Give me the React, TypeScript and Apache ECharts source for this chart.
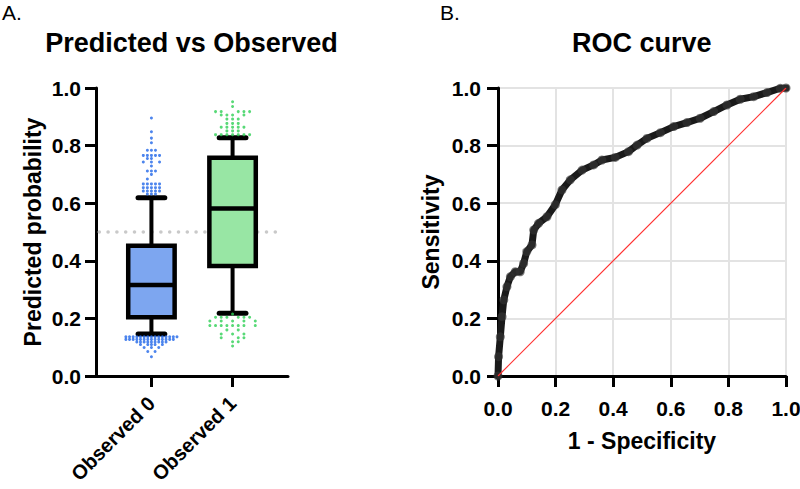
import React, { useEffect, useRef } from 'react';
import * as echarts from 'echarts';

const FONT = '"Liberation Sans", Arial, Helvetica, sans-serif';

// ----- Panel A data -----
const categories = ['Observed 0', 'Observed 1'];
// [lower whisker, Q1, median, Q3, upper whisker]
const boxObserved0 = [0.146, 0.204, 0.316, 0.452, 0.619];
const boxObserved1 = [0.218, 0.382, 0.582, 0.758, 0.827];
const threshold = 0.5;
const boxFills = ['#7da6f0', '#98e6a4'];
const dotColors = ['#2166e8', '#2ecf55'];

// outlier rows: [value, beeswarm slots]
const outliers0Upper: [number, number[]][] = [
  [0.896, [0]], [0.848, [0]], [0.826, [0]], [0.81, [0]],
  [0.784, [-1, 0, 1]], [0.766, [-2, -1, 0, 1, 2]], [0.755, [-1, 0]],
  [0.743, [-2, 0, 2]], [0.729, [0]], [0.712, [-1, 0, 1]], [0.7, [0]],
  [0.684, [-1]], [0.667, [-2, -1, 0, 1, 2]], [0.654, [-2, -1, 0, 1, 2]],
  [0.642, [-2, -1, 0, 1, 2]], [0.632, [-1, 0, 1]],
];
const outliers0Lower: [number, number[]][] = [
  [0.136, [-7, -6, -5, -4, -3, -2, -1, 0, 1, 2, 3, 4, 5, 6, 7]],
  [0.127, [-7, -6, -5, -4, -3, -2, -1, 0, 1, 2, 3, 4, 5, 6]],
  [0.118, [-4, -3, -2, -1, 0, 1, 2, 3, 4]],
  [0.109, [-3, -1, 0, 1, 3]],
  [0.099, [-2, 0, 2]],
  [0.085, [-1, 1]],
  [0.067, [0]],
];
const outliers1Upper: [number, number[]][] = [
  [0.952, [0]], [0.936, [0]],
  [0.918, [-3, -2, 1, 2, 3]], [0.906, [-2, -1, 0, 2]],
  [0.892, [-1, 0, 1]], [0.877, [-1, 0, 1]],
  [0.864, [-2, -1, 0, 1, 2]], [0.851, [-1, 0, 1]],
  [0.838, [-3, -2, -1, 0, 1, 2, 3]],
];
const outliers1Lower: [number, number[]][] = [
  [0.215, [0]], [0.204, [-3, -2, -1, 1, 2, 3]], [0.191, [-4, -2, 0, 2, 4]],
  [0.175, [-4, -3, -2, -1, 0, 1, 2, 4]], [0.16, [-1, 1]], [0.146, [-2, 0, 2]],
  [0.133, [-2, 1, 2]], [0.119, [0, 1]], [0.104, [0]],
];
// slot spacing (category units) per group
const slot0Upper = 0.05;
const slot0Lower = 0.045;
const slot1 = 0.07;

// ----- Panel B data -----
const fpr = [0, 0.002, 0.008, 0.014, 0.02, 0.031, 0.043, 0.06, 0.077, 0.089, 0.1, 0.118, 0.124, 0.141, 0.17, 0.199, 0.222, 0.251, 0.292, 0.332, 0.361, 0.407, 0.453, 0.483, 0.517, 0.564, 0.61, 0.656, 0.702, 0.749, 0.795, 0.841, 0.888, 0.934, 0.98, 1.0];
const tpr = [0, 0.067, 0.136, 0.206, 0.264, 0.31, 0.345, 0.362, 0.362, 0.391, 0.432, 0.455, 0.507, 0.53, 0.553, 0.595, 0.646, 0.681, 0.715, 0.733, 0.75, 0.759, 0.779, 0.802, 0.825, 0.845, 0.866, 0.88, 0.895, 0.918, 0.941, 0.961, 0.97, 0.984, 0.999, 1.0];
const axisTicks = [0, 0.2, 0.4, 0.6, 0.8, 1.0];

function expand(rows: [number, number[]][], idx: number, slot: number) {
  const out: number[][] = [];
  rows.forEach(([v, slots]) => slots.forEach((s) => out.push([idx + s * slot, v])));
  return out;
}

export default function App() {
  const ref = useRef<HTMLDivElement>(null);
  useEffect(() => {
    if (!ref.current) return;
    const chart = echarts.init(ref.current, null, { renderer: 'svg' });
    const boxes = [boxObserved0, boxObserved1];
    const dots0 = [...expand(outliers0Upper, 0, slot0Upper), ...expand(outliers0Lower, 0, slot0Lower)];
    const dots1 = [...expand(outliers1Upper, 1, slot1), ...expand(outliers1Lower, 1, slot1)];
    const xMinA = -0.683;
    const xMaxA = 1.683;
    const black = '#000';
    const tickLabel = { color: black, fontSize: 21, fontWeight: 'bold' as const, fontFamily: FONT };
    const nameStyle = { color: black, fontSize: 23, fontWeight: 'bold' as const, fontFamily: FONT };

    const option: any = {
      animation: false,
      backgroundColor: '#fff',
      textStyle: { fontFamily: FONT },
      grid: [
        { left: 96, top: 88, width: 192, height: 288, outerBoundsMode: 'none', containLabel: false },
        { left: 498, top: 88, width: 288, height: 288, outerBoundsMode: 'none', containLabel: false },
      ],
      xAxis: [
        {
          gridIndex: 0, type: 'value', min: xMinA, max: xMaxA,
          splitLine: { show: false },
          axisLine: { onZero: false, lineStyle: { color: black, width: 3 } },
          axisTick: { customValues: [0, 1], length: 11, lineStyle: { color: black, width: 3 } },
          axisLabel: { ...tickLabel, fontSize: 20, customValues: [0, 1], rotate: 45, margin: 24,
            formatter: (v: number) => categories[Math.round(v)] },
        },
        {
          gridIndex: 1, type: 'value', min: 0, max: 1, interval: 0.2,
          splitLine: { show: true, lineStyle: { color: '#e3e3e3', width: 2 } },
          axisLine: { onZero: false, lineStyle: { color: black, width: 3 } },
          axisTick: { length: 11, lineStyle: { color: black, width: 3 } },
          axisLabel: { ...tickLabel, margin: 22, formatter: (v: number) => v.toFixed(1) },
          name: '1 - Specificity', nameLocation: 'middle', nameGap: 53, nameTextStyle: nameStyle,
        },
      ],
      yAxis: [
        {
          gridIndex: 0, type: 'value', min: 0, max: 1, interval: 0.2,
          splitLine: { show: false },
          axisLine: { onZero: false, lineStyle: { color: black, width: 3 } },
          axisTick: { length: 11, lineStyle: { color: black, width: 3 } },
          axisLabel: { ...tickLabel, margin: 15, formatter: (v: number) => v.toFixed(1) },
          name: 'Predicted probability', nameLocation: 'middle', nameRotate: 90, nameGap: 52, nameTextStyle: nameStyle,
        },
        {
          gridIndex: 1, type: 'value', min: 0, max: 1, interval: 0.2,
          splitLine: { show: true, lineStyle: { color: '#e3e3e3', width: 2 } },
          axisLine: { onZero: false, lineStyle: { color: black, width: 3 } },
          axisTick: { length: 11, lineStyle: { color: black, width: 3 } },
          axisLabel: { ...tickLabel, margin: 17, formatter: (v: number) => v.toFixed(1) },
          name: 'Sensitivity', nameLocation: 'middle', nameRotate: 90, nameGap: 56, nameTextStyle: nameStyle,
        },
      ],
      graphic: [
        { type: 'text', left: 2, top: 2, style: { text: 'A.', fontSize: 21, fontFamily: FONT, fill: black } },
        { type: 'text', left: 440, top: 2, style: { text: 'B.', fontSize: 21, fontFamily: FONT, fill: black } },
        { type: 'text', x: 191.5, y: 29, style: { text: 'Predicted vs Observed', fontSize: 27, fontWeight: 'bold', fontFamily: FONT, fill: black, align: 'center', verticalAlign: 'top' } },
        { type: 'text', x: 641.7, y: 29, style: { text: 'ROC curve', fontSize: 27, fontWeight: 'bold', fontFamily: FONT, fill: black, align: 'center', verticalAlign: 'top' } },
      ],
      series: [
        {
          type: 'line', xAxisIndex: 0, yAxisIndex: 0, z: 1, symbol: 'none', silent: true,
          data: [[xMinA + 0.04, threshold], [xMaxA - 0.08, threshold]],
          lineStyle: { color: '#c9c9c9', width: 3.5, type: [0.1, 8.7], cap: 'round' },
        },
        {
          type: 'custom', xAxisIndex: 0, yAxisIndex: 0, z: 3,
          data: boxes.map((b, i) => [i, ...b]),
          renderItem: (params: any, api: any) => {
            const idx = api.value(0);
            const lo = api.coord([idx, api.value(1)]);
            const q1 = api.coord([idx, api.value(2)]);
            const med = api.coord([idx, api.value(3)]);
            const q3 = api.coord([idx, api.value(4)]);
            const hi = api.coord([idx, api.value(5)]);
            const halfBox = api.size([0.286, 0])[0];
            const halfCap = api.size([0.165, 0])[0];
            const x = lo[0];
            const ls = { stroke: black, lineWidth: 4 };
            return {
              type: 'group',
              children: [
                { type: 'line', shape: { x1: x, y1: lo[1], x2: x, y2: q1[1] }, style: ls },
                { type: 'line', shape: { x1: x, y1: q3[1], x2: x, y2: hi[1] }, style: ls },
                { type: 'line', shape: { x1: x - halfCap, y1: lo[1], x2: x + halfCap, y2: lo[1] }, style: { stroke: black, lineWidth: 5, lineCap: 'round' } },
                { type: 'line', shape: { x1: x - halfCap, y1: hi[1], x2: x + halfCap, y2: hi[1] }, style: { stroke: black, lineWidth: 5, lineCap: 'round' } },
                { type: 'rect', shape: { x: x - halfBox, y: q3[1], width: halfBox * 2, height: q1[1] - q3[1] }, style: { fill: boxFills[idx], stroke: black, lineWidth: 4.5 } },
                { type: 'line', shape: { x1: x - halfBox, y1: med[1], x2: x + halfBox, y2: med[1] }, style: { stroke: black, lineWidth: 4.5 } },
              ],
            };
          },
        },
        {
          type: 'scatter', xAxisIndex: 0, yAxisIndex: 0, z: 4, symbol: 'circle', symbolSize: 3,
          data: dots0, itemStyle: { color: dotColors[0] },
        },
        {
          type: 'scatter', xAxisIndex: 0, yAxisIndex: 0, z: 4, symbol: 'circle', symbolSize: 3,
          data: dots1, itemStyle: { color: dotColors[1] },
        },
        {
          type: 'line', xAxisIndex: 1, yAxisIndex: 1, z: 3, symbol: 'circle', symbolSize: 9, showSymbol: true,
          data: fpr.map((f, i) => [f, tpr[i]]),
          lineStyle: { color: '#1a1a1a', width: 7, join: 'round', cap: 'round' },
          itemStyle: { color: 'rgba(50,50,50,0.65)', borderWidth: 0 },
        },
        {
          type: 'line', xAxisIndex: 1, yAxisIndex: 1, z: 4, symbol: 'none', silent: true,
          data: [[axisTicks[0], axisTicks[0]], [axisTicks[5], axisTicks[5]]],
          lineStyle: { color: '#ff3030', width: 1.2 },
          itemStyle: { color: '#ff3030' },
        },
      ],
    };
    chart.setOption(option);
    return () => chart.dispose();
  }, []);
  return <div ref={ref} style={{ position: 'fixed', left: 0, top: 0, width: 800, height: 489 }} />;
}
